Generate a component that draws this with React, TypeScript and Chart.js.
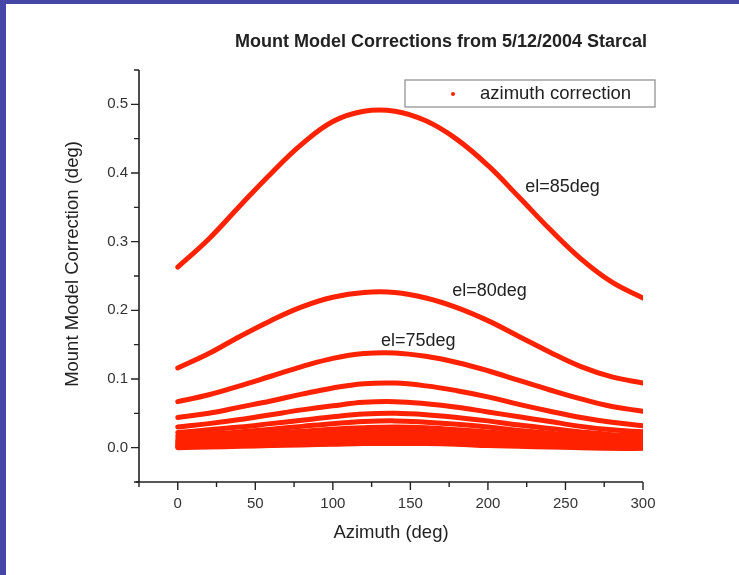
import React, { useEffect, useRef } from "react";
import { Chart, registerables } from "chart.js";

Chart.register(...registerables);

const CHART_TITLE = "Mount Model Corrections from 5/12/2004 Starcal";
const X_TITLE = "Azimuth (deg)";
const Y_TITLE = "Mount Model Correction (deg)";
const LEGEND_LABEL = "azimuth correction";

const AZIMUTH = [0, 20, 40, 60, 80, 100, 120, 140, 160, 180, 200, 220, 240, 260, 280, 300];

const EL85 = [0.263, 0.304, 0.352, 0.399, 0.442, 0.475, 0.490, 0.490, 0.476, 0.449, 0.411, 0.365, 0.318, 0.275, 0.241, 0.218];
const EL80 = [0.116, 0.137, 0.162, 0.185, 0.205, 0.219, 0.226, 0.226, 0.218, 0.204, 0.185, 0.162, 0.139, 0.118, 0.103, 0.094];
const EL75 = [0.067, 0.077, 0.090, 0.104, 0.118, 0.130, 0.137, 0.138, 0.133, 0.124, 0.112, 0.098, 0.084, 0.071, 0.060, 0.053];
const EL70 = [0.044, 0.050, 0.059, 0.068, 0.078, 0.087, 0.093, 0.094, 0.090, 0.083, 0.074, 0.063, 0.053, 0.044, 0.037, 0.032];
const EL65 = [0.030, 0.035, 0.041, 0.048, 0.055, 0.061, 0.066, 0.067, 0.064, 0.059, 0.052, 0.045, 0.038, 0.031, 0.026, 0.023];
const EL60 = [0.022, 0.026, 0.030, 0.035, 0.040, 0.045, 0.049, 0.050, 0.048, 0.044, 0.039, 0.033, 0.028, 0.023, 0.019, 0.017];
const EL55 = [0.017, 0.020, 0.023, 0.027, 0.031, 0.035, 0.038, 0.039, 0.037, 0.034, 0.030, 0.025, 0.021, 0.017, 0.014, 0.013];
const EL50 = [0.013, 0.015, 0.018, 0.021, 0.024, 0.027, 0.029, 0.030, 0.029, 0.026, 0.023, 0.019, 0.016, 0.013, 0.011, 0.010];
const EL45 = [0.010, 0.012, 0.014, 0.016, 0.019, 0.021, 0.023, 0.024, 0.023, 0.021, 0.018, 0.015, 0.012, 0.010, 0.008, 0.007];
const EL40 = [0.008, 0.009, 0.011, 0.013, 0.015, 0.017, 0.019, 0.019, 0.018, 0.016, 0.014, 0.012, 0.009, 0.007, 0.006, 0.005];
const EL35 = [0.006, 0.007, 0.008, 0.010, 0.012, 0.014, 0.015, 0.016, 0.015, 0.013, 0.011, 0.009, 0.007, 0.005, 0.004, 0.003];
const EL30 = [0.004, 0.005, 0.006, 0.008, 0.010, 0.011, 0.012, 0.013, 0.012, 0.010, 0.008, 0.006, 0.005, 0.003, 0.002, 0.002];
const EL25 = [0.003, 0.004, 0.005, 0.006, 0.008, 0.009, 0.010, 0.010, 0.009, 0.008, 0.006, 0.005, 0.003, 0.002, 0.001, 0.001];
const EL20 = [0.001, 0.002, 0.003, 0.004, 0.006, 0.007, 0.008, 0.008, 0.007, 0.006, 0.005, 0.003, 0.002, 0.001, 0.000, 0.000];
const EL15 = [0.000, 0.001, 0.002, 0.003, 0.004, 0.005, 0.006, 0.006, 0.006, 0.005, 0.003, 0.002, 0.001, 0.000, -0.001, -0.001];

const SERIES = [EL85, EL80, EL75, EL70, EL65, EL60, EL55, EL50, EL45, EL40, EL35, EL30, EL25, EL20, EL15];
const SERIES_NAMES = ["el=85deg", "el=80deg", "el=75deg", "el=70deg", "el=65deg", "el=60deg", "el=55deg", "el=50deg", "el=45deg", "el=40deg", "el=35deg", "el=30deg", "el=25deg", "el=20deg", "el=15deg"];

const ANNOTATION_TEXT = ["el=85deg", "el=80deg", "el=75deg"];
const ANNOTATION_AZ = [224, 177, 131];
const ANNOTATION_VAL = [0.379, 0.228, 0.156];

const X_MIN = -25, X_MAX = 300, X_STEP = 25, X_MAJOR = 50;
const Y_MIN = -0.05, Y_MAX = 0.55, Y_STEP = 0.05, Y_MAJOR = 0.1;

const RED = "rgb(255,34,0)";
const INK = "#222";
const FONT = "'Liberation Sans', Arial, sans-serif";

const isMajor = (v: number, m: number) => Math.abs(Math.round(v / m) * m - v) < 1e-6;

const decor = {
  id: "decor",
  beforeDraw(chart: any) {
    const { ctx, width, height } = chart;
    ctx.save();
    ctx.fillStyle = "#4646a8";
    ctx.fillRect(0, 0, width, height);
    ctx.fillStyle = "#ffffff";
    ctx.fillRect(6, 4, width - 6, height - 4);
    ctx.restore();
  },
  afterDraw(chart: any) {
    const { ctx, chartArea } = chart;
    const xs = chart.scales.x;
    const ys = chart.scales.y;
    const { left, right, top, bottom } = chartArea;
    ctx.save();
    ctx.strokeStyle = INK;
    ctx.lineWidth = 1.6;
    ctx.beginPath();
    ctx.moveTo(left, top);
    ctx.lineTo(left, bottom);
    ctx.moveTo(left - 3, bottom);
    ctx.lineTo(right, bottom);
    ctx.stroke();
    ctx.lineWidth = 1.4;
    ctx.beginPath();
    xs.ticks.forEach((t: any) => {
      const px = xs.getPixelForValue(t.value);
      const len = isMajor(t.value, X_MAJOR) ? 8 : 5;
      ctx.moveTo(px, bottom);
      ctx.lineTo(px, bottom + len);
    });
    ys.ticks.forEach((t: any) => {
      const py = ys.getPixelForValue(t.value);
      const len = isMajor(t.value, Y_MAJOR) ? 8 : 5;
      ctx.moveTo(left, py);
      ctx.lineTo(left - len, py);
    });
    ctx.stroke();

    ctx.fillStyle = INK;
    ctx.textBaseline = "middle";
    ctx.textAlign = "center";
    ctx.font = `bold 18px ${FONT}`;
    ctx.fillText(CHART_TITLE, 441, 42);

    ctx.font = `18.5px ${FONT}`;
    ctx.fillText(X_TITLE, 391, 533);
    ctx.save();
    ctx.translate(73, 264);
    ctx.rotate(-Math.PI / 2);
    ctx.fillText(Y_TITLE, 0, 0);
    ctx.restore();

    ctx.textAlign = "left";
    ctx.font = `18px ${FONT}`;
    ANNOTATION_TEXT.forEach((txt, i) => {
      ctx.fillText(txt, xs.getPixelForValue(ANNOTATION_AZ[i]), ys.getPixelForValue(ANNOTATION_VAL[i]));
    });

    // legend
    ctx.strokeStyle = "#8a8a8a";
    ctx.lineWidth = 1.2;
    ctx.fillStyle = "#ffffff";
    ctx.fillRect(405, 80, 250, 27);
    ctx.strokeRect(405, 80, 250, 27);
    ctx.fillStyle = RED;
    ctx.beginPath();
    ctx.arc(453, 94, 2, 0, Math.PI * 2);
    ctx.fill();
    ctx.fillStyle = INK;
    ctx.font = `18.5px ${FONT}`;
    ctx.fillText(LEGEND_LABEL, 480, 94);
    ctx.restore();
  },
};

export default function App() {
  const ref = useRef<HTMLCanvasElement>(null);
  useEffect(() => {
    document.body.style.margin = "0";
    const datasets = SERIES.map((s, i) => ({
      label: SERIES_NAMES[i],
      data: AZIMUTH.map((a, j) => ({ x: a, y: s[j] })),
      borderColor: RED,
      backgroundColor: RED,
      borderWidth: 5,
      pointRadius: 0,
      borderCapStyle: "round",
      tension: 0.4,
      fill: false,
    }));
    const chart = new Chart(ref.current as HTMLCanvasElement, {
      type: "line",
      data: { datasets } as any,
      options: {
        animation: false,
        responsive: true,
        maintainAspectRatio: false,
        layout: { padding: { left: 0, top: 70, right: 96, bottom: 0 } },
        plugins: { legend: { display: false }, title: { display: false }, tooltip: { enabled: false } },
        scales: {
          x: {
            type: "linear",
            min: X_MIN,
            max: X_MAX,
            grid: { display: false, drawTicks: false },
            border: { display: false },
            afterFit: (s: any) => { s.height = 93; },
            ticks: {
              stepSize: X_STEP,
              autoSkip: false,
              maxRotation: 0,
              padding: 13,
              color: "#333",
              font: { family: FONT, size: 15 },
              callback: (v: any) => (isMajor(Number(v), X_MAJOR) && Number(v) >= 0 ? String(Math.round(Number(v))) : ""),
            },
          },
          y: {
            type: "linear",
            min: Y_MIN,
            max: Y_MAX,
            grid: { display: false, drawTicks: false },
            border: { display: false },
            afterFit: (s: any) => { s.width = 139; },
            ticks: {
              stepSize: Y_STEP,
              autoSkip: false,
              padding: 11,
              color: "#333",
              font: { family: FONT, size: 15 },
              callback: (v: any) => (isMajor(Number(v), Y_MAJOR) && Number(v) > -0.01 ? Number(v).toFixed(1) : ""),
            },
          },
        },
      } as any,
      plugins: [decor],
    });
    return () => chart.destroy();
  }, []);
  return (
    <div style={{ width: 739, height: 575, position: "relative" }}>
      <canvas ref={ref} />
    </div>
  );
}
